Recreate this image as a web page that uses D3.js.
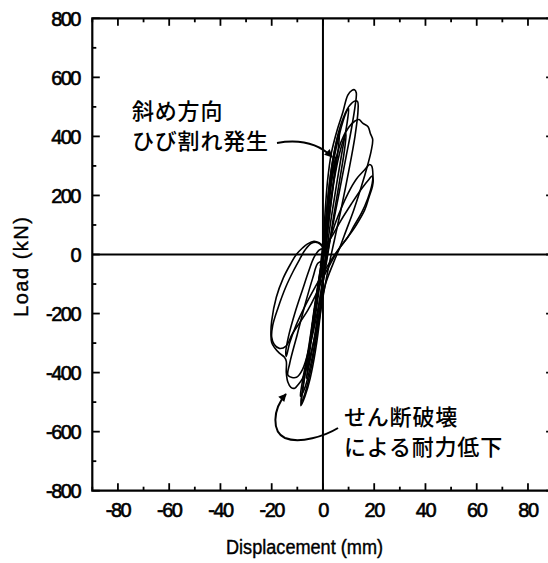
<!DOCTYPE html>
<html>
<head>
<meta charset="utf-8">
<script src="https://cdn.jsdelivr.net/npm/d3@7"></script>
<style>
  html, body { margin: 0; padding: 0; background: #fff; }
  svg { display: block; }
</style>
</head>
<body>
<script>
// ---- data (displacement mm, load kN) ----
const xTicks = [-80, -60, -40, -20, 0, 20, 40, 60, 80];
const yTicks = [-800, -600, -400, -200, 0, 200, 400, 600, 800];
const xMinor = [-90, -70, -50, -30, -10, 10, 30, 50, 70, 90];
const yMinor = [-700, -500, -300, -100, 100, 300, 500, 700];

const cycleSmallA = [[0,0],[1,90],[2.5,200],[4,290],[5,330],[4.5,280],[3,170],[1.5,60],[0,-30],[-1.5,-120],[-3,-210],[-4.5,-280],[-4,-230],[-2.5,-140],[-1,-50],[0,0]];
const cycleSmallB = [[0,-10],[1.5,150],[3,270],[5,370],[6.5,420],[6,360],[4,230],[2,90],[0.5,-40],[-1.5,-170],[-3.5,-290],[-6,-400],[-6.5,-420],[-5,-320],[-2.5,-160],[-0.5,-40],[0.5,40]];
const cycleSmallC = [[0.5,40],[2,180],[4,310],[6.5,410],[9,480],[10,495],[9.5,450],[7.5,350],[5,220],[2.5,80],[0.5,-60],[-1.5,-200],[-4,-340],[-7,-450],[-8.8,-480],[-8.2,-440],[-5.5,-310],[-3,-160],[-1,-50],[0.5,40]];
const cyclePeak555 = [[-1,-40],[0,40],[1.8,250],[3.3,344],[5.5,420],[7.7,480],[9.7,540],[11.3,556],[12.3,558],[13,548],[12.5,500],[11,420],[9,330],[7,240],[5,150],[3,60],[1.5,-10],[0,-100],[-1,-200],[-3,-330],[-5,-420],[-7,-480],[-8.6,-512],[-8.4,-490],[-6.5,-380],[-4,-250],[-2,-130],[-0.5,-40],[0.5,30]];
const cyclePeak520 = [[0.5,30],[2,200],[4,330],[7,440],[10,500],[12.5,520],[13.5,518],[13.7,490],[12.5,400],[10,280],[7,150],[4.5,50],[2.5,-30],[0.5,-120],[-2,-250],[-4.5,-380],[-7,-470],[-8.5,-500],[-8,-460],[-5.5,-320],[-3,-170],[-1,-60],[1,30]];
const cyclePeak455 = [[1,30],[2.5,180],[4,280],[7,380],[10,430],[12.5,452],[14.1,457],[15.5,445],[17.6,433],[18.5,410],[19.4,390],[18.8,350],[17.5,305],[15,230],[12,150],[9,80],[6.5,22],[4,-30],[1,-100],[-1,-180],[-3,-270],[-5.5,-360],[-8,-420],[-9.8,-442],[-11,-453],[-12.5,-450],[-13.7,-432],[-14.3,-400],[-14.3,-362],[-15,-348],[-17,-334],[-19,-314],[-20,-298],[-20.3,-270],[-20,-225],[-18.2,-145],[-15.5,-80],[-12.5,-30],[-10.4,0],[-8,22],[-6,36],[-3.5,45],[-1.5,40],[0.5,25]];
const cyclePeak305 = [[0.5,0],[2,30],[5,110],[9.8,207],[13,255],[16.3,287],[18.2,305],[19,300],[19.5,270],[19.2,240],[17.5,190],[15,140],[12,95],[9.8,60],[6.5,22],[3,-30],[0,-80],[-3,-140],[-6,-190],[-9,-230],[-12,-270],[-14.4,-310],[-17,-318],[-19,-305],[-20,-280],[-19.6,-240],[-17.5,-180],[-14.5,-110],[-11.5,-55],[-9,-15],[-7,15],[-4.5,38],[-2,40],[0,25]];
const cyclePeak265 = [[0,20],[3,55],[7,115],[11,170],[15,222],[18,255],[19.2,266],[19.6,252],[19.3,230],[18,195],[16.3,151],[13,100],[9.8,60],[6.5,22],[4,-8],[1,-50],[-3,-110],[-7,-175],[-10.5,-240],[-13,-300],[-14.3,-345],[-14.5,-330],[-13.5,-280],[-11,-200],[-8,-120],[-5.5,-55],[-3.5,-10],[-1.5,15],[0,20]];
const cycleMid = [[0,-20],[2,120],[4.5,260],[7,360],[9,410],[8.5,360],[6.5,250],[4,120],[1.5,-20],[-1,-140],[-4,-270],[-8,-390],[-10.3,-416],[-13.6,-410],[-13,-370],[-10,-270],[-7,-170],[-4,-80],[-2,-30],[0,-20]];

const cycles = [cycleSmallA, cycleSmallB, cycleSmallC, cyclePeak555, cyclePeak520, cyclePeak455, cyclePeak305, cyclePeak265, cycleMid];

const notes = [
  {lines: ["斜め方向", "ひび割れ発生"], x: 132, y: 119},
  {lines: ["せん断破壊", "による耐力低下"], x: 344, y: 425}
];

// ---- drawing ----
const W = 548, H = 563;
const svg = d3.select("body").append("svg").attr("width", W).attr("height", H);

const x = d3.scaleLinear().domain([-90, 90]).range([92.3, 553.6]);
const y = d3.scaleLinear().domain([-800, 800]).range([490.7, 18.3]);

const axisFont = "'Liberation Sans', Arial, sans-serif";
const g = svg.append("g");

// frame
g.append("path")
  .attr("d", `M${x(90)},${y(800)}H${x(-90)}V${y(-800)}H${x(90)}V${y(800)}`)
  .attr("fill", "none").attr("stroke", "#000").attr("stroke-width", 2.2);

// ticks (inward) on all four sides
const tickG = g.append("g").attr("stroke", "#000").attr("stroke-width", 1.8);
function xt(vals, len) {
  vals.forEach(v => {
    tickG.append("line").attr("x1", x(v)).attr("x2", x(v)).attr("y1", y(-800)).attr("y2", y(-800) - len);
    tickG.append("line").attr("x1", x(v)).attr("x2", x(v)).attr("y1", y(800)).attr("y2", y(800) + len);
  });
}
function yt(vals, len) {
  vals.forEach(v => {
    tickG.append("line").attr("y1", y(v)).attr("y2", y(v)).attr("x1", x(-90)).attr("x2", x(-90) + len);
    tickG.append("line").attr("y1", y(v)).attr("y2", y(v)).attr("x1", x(90)).attr("x2", x(90) - len);
  });
}
xt(xTicks, 7.5); xt(xMinor, 4);
yt(yTicks, 7.5); yt(yMinor, 4);

// zero lines
g.append("line").attr("x1", x(0)).attr("x2", x(0)).attr("y1", y(800)).attr("y2", y(-800))
  .attr("stroke", "#000").attr("stroke-width", 2);
g.append("line").attr("x1", x(-90)).attr("x2", x(90)).attr("y1", y(0)).attr("y2", y(0))
  .attr("stroke", "#000").attr("stroke-width", 2);

// tick labels
g.selectAll("text.xl").data(xTicks).enter().append("text")
  .attr("x", d => x(d)).attr("y", 517)
  .attr("text-anchor", "middle")
  .attr("font-family", axisFont).attr("font-size", 20).attr("letter-spacing", -1.5)
  .attr("stroke", "#000").attr("stroke-width", 0.6)
  .text(d => d);
g.selectAll("text.yl").data(yTicks).enter().append("text")
  .attr("x", 80).attr("y", d => y(d) + 7.2)
  .attr("text-anchor", "end")
  .attr("font-family", axisFont).attr("font-size", 20).attr("letter-spacing", -1.5)
  .attr("stroke", "#000").attr("stroke-width", 0.6)
  .text(d => d);

// axis titles
g.append("text").attr("x", 226).attr("y", 554)
  .attr("font-family", axisFont).attr("font-size", 20)
  .attr("stroke", "#000").attr("stroke-width", 0.4)
  .attr("textLength", 157).attr("lengthAdjust", "spacingAndGlyphs")
  .text("Displacement (mm)");
g.append("text").attr("transform", "translate(28,317) rotate(-90)")
  .attr("font-family", axisFont).attr("font-size", 20)
  .attr("stroke", "#000").attr("stroke-width", 0.4)
  .attr("textLength", 100).attr("lengthAdjust", "spacing")
  .text("Load (kN)");

// hysteresis loops
const line = d3.line().x(d => x(d[0])).y(d => y(d[1])).curve(d3.curveCatmullRom.alpha(0.5));
g.append("g").selectAll("path").data(cycles).enter().append("path")
  .attr("d", line).attr("fill", "none").attr("stroke", "#000").attr("stroke-width", 1.6)
  .attr("stroke-linejoin", "round");

// annotations
const defs = svg.append("defs");
defs.append("marker").attr("id", "arr").attr("viewBox", "0 0 10 10")
  .attr("refX", 9).attr("refY", 5).attr("markerWidth", 10).attr("markerHeight", 8)
  .attr("markerUnits", "userSpaceOnUse").attr("orient", "auto")
  .append("path").attr("d", "M0,0L10,5L0,10Z").attr("fill", "#000");

notes.forEach(n => {
  n.lines.forEach((t, i) => {
    g.append("text").attr("x", n.x).attr("y", n.y + i * 30)
      .attr("font-family", "'Noto Sans CJK JP', sans-serif").attr("font-size", 22)
      .attr("letter-spacing", 0.8).attr("font-weight", 500)
      .text(t);
  });
});
g.append("path").attr("d", "M277,143 C300,139 318,143 332,157")
  .attr("fill", "none").attr("stroke", "#000").attr("stroke-width", 2).attr("marker-end", "url(#arr)");
g.append("path").attr("d", "M338,428 C325,436 300,444 285,438 C272,432 272,410 286,394")
  .attr("fill", "none").attr("stroke", "#000").attr("stroke-width", 2).attr("marker-end", "url(#arr)");
</script>
</body>
</html>
